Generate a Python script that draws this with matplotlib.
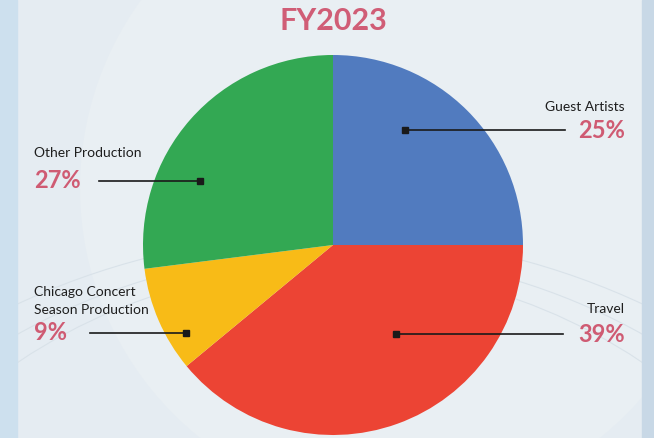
import matplotlib.pyplot as plt
from matplotlib.patches import Rectangle, Circle

# Data
categories = ['Guest Artists', 'Travel', 'Chicago Concert\nSeason Production', 'Other Production']
shares = [25, 39, 9, 27]
colors = ['#517bbf', '#ec4434', '#f8bb17', '#33a853']

W, H = 654, 438
fig = plt.figure(figsize=(W / 100, H / 100), dpi=100)
fig.patch.set_facecolor('#e5ecf2')
ax = fig.add_axes([0, 0, 1, 1])

# background: soft disc, faint arcs, side strips
ax.add_patch(Circle((400, 250), 320, fc='#e9eff3', ec='none', zorder=0))
for r in (560, 640, 740):
    ax.add_patch(Circle((330, 70 - r * 0.82), r, fill=False, ec='#d9e2e9', lw=0.8, zorder=0))
ax.add_patch(Rectangle((0, 0), 17, H, color='#cde0ee', zorder=1))
ax.add_patch(Rectangle((642, 0), W - 642, H, color='#c8d8e6', zorder=1))

cx, cy, radius = 333, H - 245, 190
ax.pie(shares, colors=colors, startangle=90, counterclock=False,
       center=(cx, cy), radius=radius, frame=True,
       wedgeprops=dict(linewidth=0, zorder=2))
ax.set_xlim(0, W)
ax.set_ylim(0, H)
ax.set_aspect('equal')
ax.axis('off')

pct_color = '#cf5b73'
# (marker x, marker y, line end x, text x, align, gap to label baseline)
callouts = [
    (405, 130, 565, 625, 'right', 19),
    (396, 334, 563, 625, 'right', 21),
    (186, 333, 90, 34, 'left', 19),
    (200, 181, 99, 34, 'left', 24),
]
for (mx, my, lx, tx, ha, gap), name, pct in zip(callouts, categories, shares):
    y = H - my
    ax.plot([mx, lx], [y, y], color='#1a1a1a', lw=1.2, zorder=5)
    ax.plot(mx, y, marker='s', ms=4.5, color='#1a1a1a', zorder=6)
    ax.text(tx, y, f'{pct}%', ha=ha, va='center', fontsize=17,
            family='Lato', fontweight='bold', color=pct_color, zorder=6)
    lines = name.split('\n')
    for i, line in enumerate(reversed(lines)):
        ax.text(tx, y + gap + i * 18, line, ha=ha, va='baseline', fontsize=10,
                family='Lato', color='#1e1e1e', zorder=6)

ax.text(cx, H - 21, 'FY2023', ha='center', va='center', fontsize=22,
        family='Lato', fontweight='bold', color='#d05d76')

plt.savefig('out.png', dpi=100, facecolor=fig.get_facecolor())
